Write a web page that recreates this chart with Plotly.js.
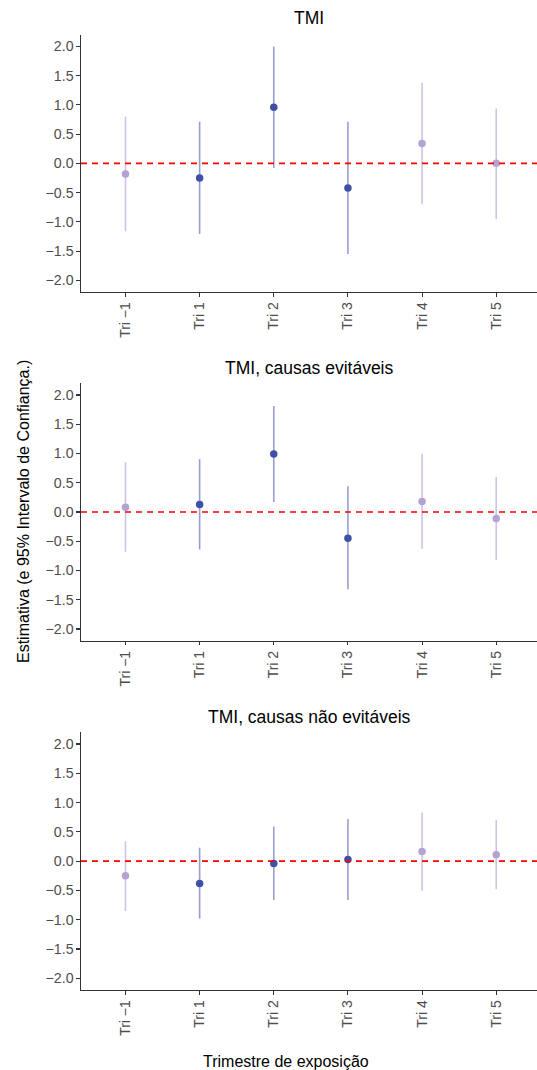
<!DOCTYPE html>
<html>
<head>
<meta charset="utf-8">
<script src="https://cdn.plot.ly/plotly-3.0.1.min.js"></script>
<style>html,body{margin:0;padding:0;background:#fff;}#chart{width:537px;height:1070px;}</style>
</head>
<body>
<div id="chart"></div>
<script>
// ---- data ----
const categories = ["Tri \u22121", "Tri 1", "Tri 2", "Tri 3", "Tri 4", "Tri 5"];
const groups = ["light", "dark", "dark", "dark", "light", "light"];
const panelTitles = ["TMI", "TMI, causas evit\u00e1veis", "TMI, causas n\u00e3o evit\u00e1veis"];

const est1 = [-0.18, -0.25, 0.96, -0.42, 0.34, 0.00];
const lo1  = [-1.16, -1.21, -0.08, -1.55, -0.70, -0.95];
const hi1  = [0.80, 0.71, 2.00, 0.71, 1.38, 0.94];

const est2 = [0.08, 0.13, 0.99, -0.45, 0.18, -0.11];
const lo2  = [-0.68, -0.64, 0.17, -1.32, -0.63, -0.82];
const hi2  = [0.85, 0.90, 1.81, 0.44, 0.99, 0.60];

const est3 = [-0.25, -0.38, -0.04, 0.03, 0.165, 0.11];
const lo3  = [-0.85, -0.98, -0.665, -0.665, -0.505, -0.48];
const hi3  = [0.34, 0.23, 0.59, 0.72, 0.83, 0.70];

const yTicks = [-2, -1.5, -1, -0.5, 0, 0.5, 1, 1.5, 2];
const xTitle = "Trimestre de exposi\u00e7\u00e3o";
const yTitle = "Estimativa (e 95% Intervalo de Confian\u00e7a.)";

// ---- styling ----
const W = 537, H = 1070;
const pointColor = {dark: "#3F51A5", light: "#B4A3D2"};
const lineColor = {dark: "rgba(63,81,165,0.55)", light: "rgba(180,163,210,0.65)"};
const panels = [
  {est: est1, lo: lo1, hi: hi1, top: 34.7, bottom: 292, titleY: 18.5},
  {est: est2, lo: lo2, hi: hi2, top: 383.3, bottom: 640.7, titleY: 367.5},
  {est: est3, lo: lo3, hi: hi3, top: 732.3, bottom: 990, titleY: 717}
];

const traces = [];
const layout = {
  width: W, height: H,
  margin: {l: 81, r: 0, t: 0, b: 0},
  paper_bgcolor: "#fff", plot_bgcolor: "#fff",
  showlegend: false,
  font: {family: "Liberation Sans, Arial, sans-serif", color: "#4D4D4D"},
  shapes: [], annotations: []
};

panels.forEach((p, i) => {
  const sfx = i === 0 ? "" : String(i + 1);
  const xa = "x" + sfx, ya = "y" + sfx;
  ["light", "dark"].forEach(g => {
    const xs = [], ys = [], up = [], dn = [];
    categories.forEach((c, k) => {
      if (groups[k] !== g) return;
      xs.push(c); ys.push(p.est[k]);
      up.push(p.hi[k] - p.est[k]); dn.push(p.est[k] - p.lo[k]);
    });
    traces.push({
      type: "scatter", mode: "markers", x: xs, y: ys, xaxis: xa, yaxis: ya,
      marker: {color: pointColor[g], size: 7.5},
      error_y: {type: "data", symmetric: false, array: up, arrayminus: dn,
                color: lineColor[g], thickness: 1.6, width: 0},
      hoverinfo: "skip"
    });
  });
  layout["xaxis" + sfx] = {
    anchor: ya, type: "category", categoryorder: "array", categoryarray: categories,
    range: [-0.6, 5.55], showgrid: false, zeroline: false,
    showline: true, linecolor: "#333", linewidth: 1.1,
    ticks: "outside", ticklen: 3.5, tickcolor: "#333", tickwidth: 1.1,
    tickangle: -90, tickfont: {size: 14, color: "#4D4D4D"}
  };
  layout["yaxis" + sfx] = {
    anchor: xa, domain: [1 - p.bottom / H, 1 - p.top / H],
    range: [-2.2, 2.2], showgrid: false, zeroline: false,
    showline: true, linecolor: "#333", linewidth: 1.1,
    ticks: "outside", ticklen: 3.5, tickcolor: "#333", tickwidth: 1.1,
    tickvals: yTicks, tickformat: ".1f", tickfont: {size: 14.2, color: "#4D4D4D"}
  };
  layout.shapes.push({
    type: "line", xref: xa + " domain", yref: ya, x0: 0, x1: 1, y0: 0, y1: 0,
    line: {color: "#FF0000", width: 1.6, dash: "6px,5px"}, layer: "above"
  });
  layout.annotations.push({
    text: panelTitles[i], xref: "paper", yref: "paper", x: 0.5, y: 1 - p.titleY / H,
    xanchor: "center", yanchor: "middle", showarrow: false,
    font: {size: 17.5, color: "#000"}
  });
});

layout.annotations.push({
  text: xTitle, xref: "paper", yref: "paper",
  x: (285.5 - 81) / (W - 81), y: 1 - 1061.5 / H,
  xanchor: "center", yanchor: "middle", showarrow: false,
  font: {size: 16, color: "#000"}
});
layout.annotations.push({
  text: yTitle, xref: "paper", yref: "paper",
  x: (24 - 81) / (W - 81), y: 1 - 512 / H, textangle: -90,
  xanchor: "center", yanchor: "middle", showarrow: false,
  font: {size: 16, color: "#000"}
});

Plotly.newPlot("chart", traces, layout, {displayModeBar: false, staticPlot: true});
</script>
</body>
</html>
